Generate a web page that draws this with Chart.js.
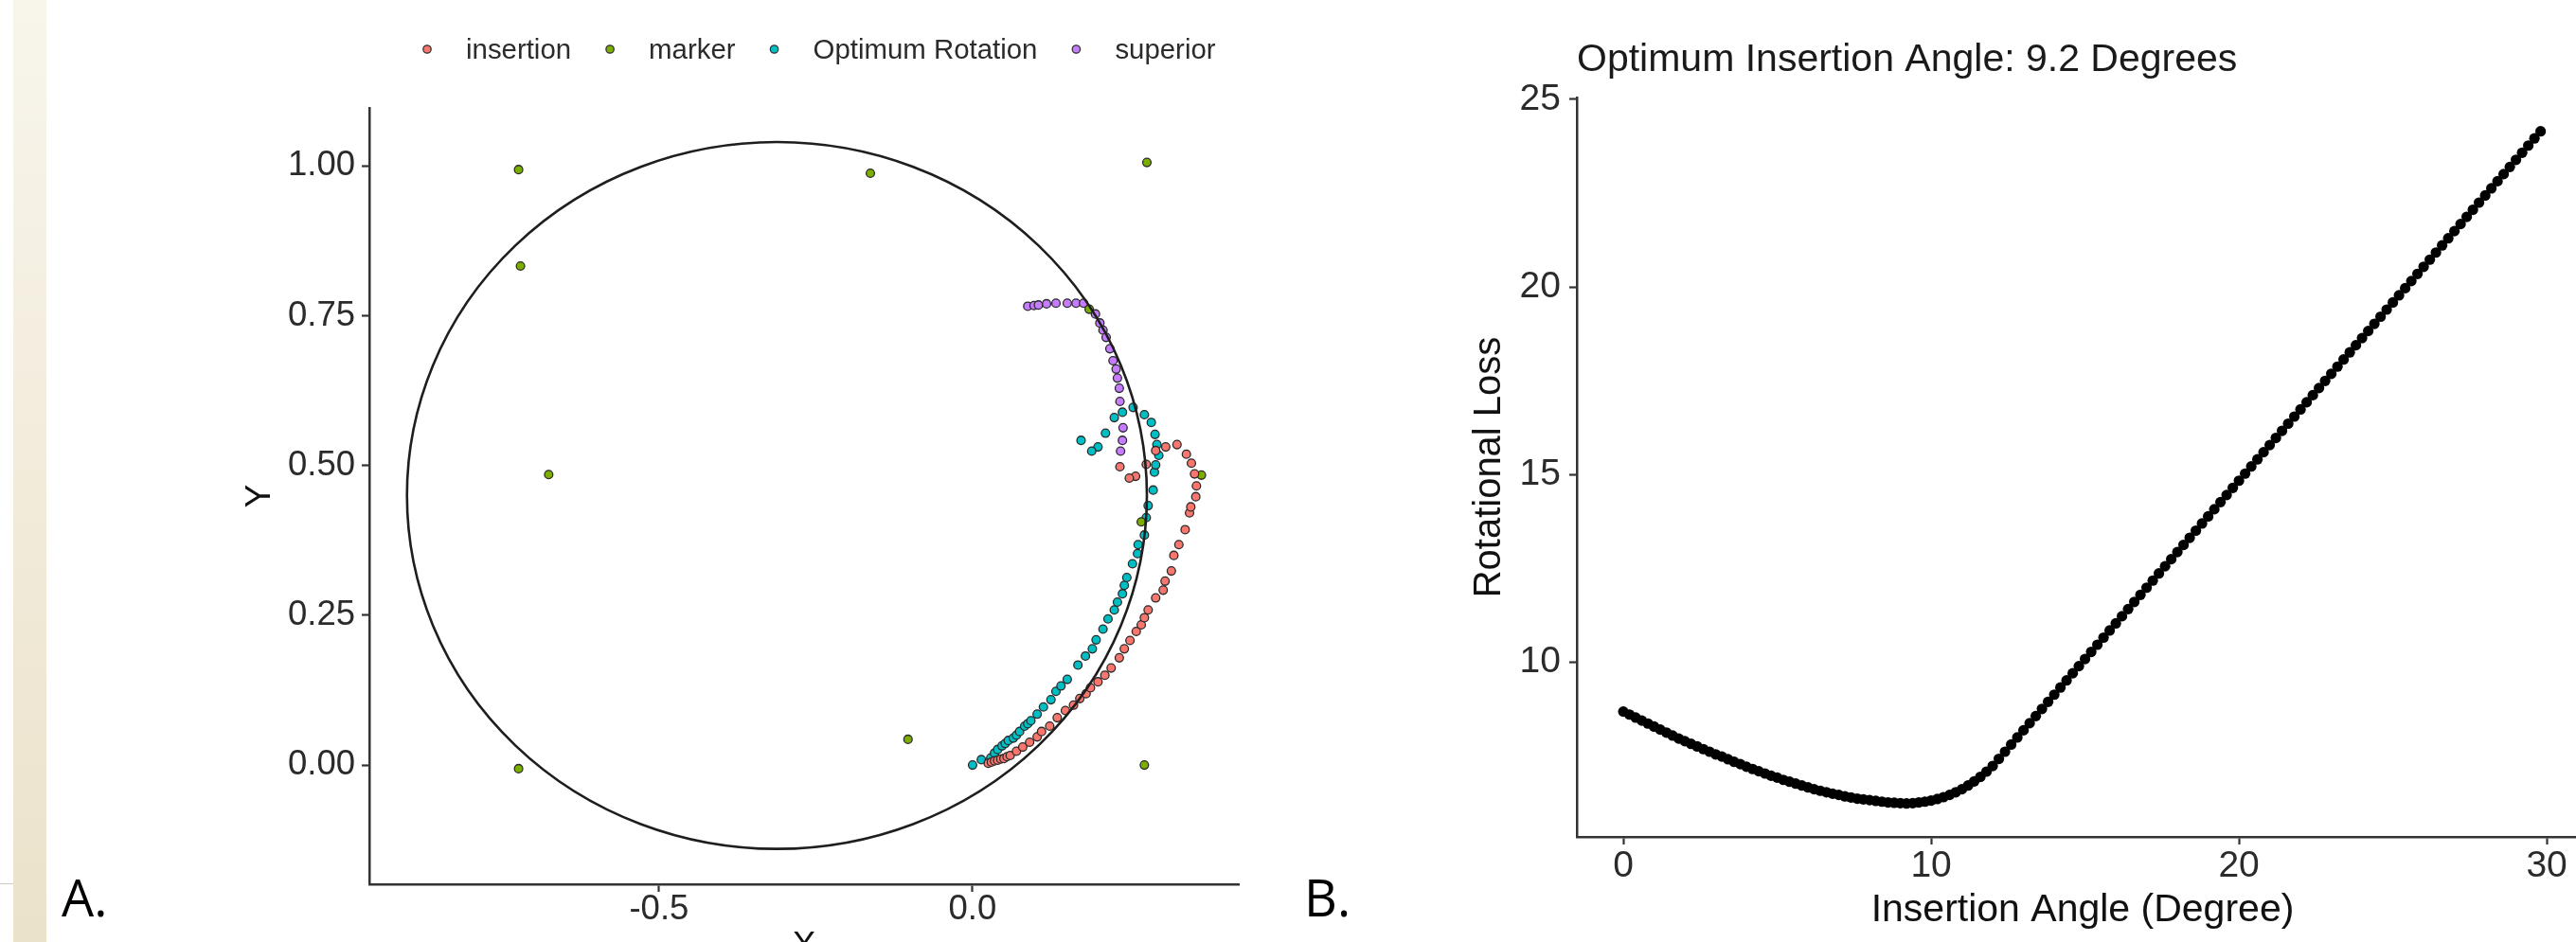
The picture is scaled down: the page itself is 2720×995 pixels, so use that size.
<html>

<head>
    <script src="https://cdn.jsdelivr.net/npm/chart.js@4.4.1/dist/chart.umd.min.js"></script>
    <style>
        html, body { margin: 0; padding: 0; width: 2720px; height: 995px; overflow: hidden; background: #fff; }
        #strip { position: absolute; left: 14px; top: 0; width: 35px; height: 995px; background: linear-gradient(to bottom, #f8f5ec, #ebe2ca); }
        #rule { position: absolute; left: 0; top: 933px; width: 14px; height: 1px; background: #d2cbbb; }
        .panel { position: absolute; font-family: "Open Sans"; font-size: 54px; line-height: 54px; color: #000; }
        #chartA { position: absolute; left: 0; top: 0; }
        #chartB { position: absolute; left: 1500px; top: 0; }
    </style>
</head>

<body>
    <div id="strip"></div>
    <div id="rule"></div>
    <canvas id="chartA" width="1560" height="1030"></canvas>
    <canvas id="chartB" width="1300" height="995"></canvas>
    <div class="panel" style="left:65px; top:920px">A.</div>
    <div class="panel" style="left:1377px; top:920px">B.</div>
</body>

<script>
    // ---- panel A: tracked points ----
    var insertionX = [0.025, 0.030, 0.035, 0.040, 0.045, 0.050, 0.055, 0.060, 0.070, 0.080, 0.091, 0.103, 0.110, 0.123, 0.135, 0.148, 0.161, 0.171,
        0.181, 0.188, 0.200, 0.211, 0.221, 0.234, 0.242, 0.251, 0.261, 0.269, 0.274, 0.280, 0.292, 0.304, 0.307, 0.317, 0.321,
        0.329, 0.339, 0.346, 0.348, 0.356, 0.357, 0.354, 0.349, 0.341, 0.326, 0.308, 0.292, 0.277, 0.260, 0.250, 0.235];
    var insertionY = [0.003, 0.005, 0.007, 0.008, 0.010, 0.011, 0.014, 0.016, 0.023, 0.030, 0.038, 0.047, 0.056, 0.065, 0.079, 0.091, 0.100, 0.111,
        0.119, 0.129, 0.139, 0.150, 0.162, 0.179, 0.194, 0.208, 0.223, 0.234, 0.246, 0.259, 0.279, 0.292, 0.307, 0.324, 0.350,
        0.368, 0.393, 0.421, 0.431, 0.448, 0.466, 0.486, 0.504, 0.519, 0.535, 0.531, 0.525, 0.502, 0.482, 0.479, 0.498];

    var markerX = [-0.724, -0.721, -0.676, -0.724, -0.163, -0.103, 0.278, 0.274, 0.186, 0.365, 0.269];
    var markerY = [0.994, 0.833, 0.485, -0.006, 0.988, 0.043, 1.006, 0.000, 0.761, 0.484, 0.406];

    var optimumX = [0.000, 0.014, 0.029, 0.035, 0.040, 0.047, 0.052, 0.057, 0.065, 0.070, 0.075, 0.083, 0.088, 0.093, 0.103, 0.113, 0.125,
        0.133, 0.141, 0.151, 0.168, 0.180, 0.191, 0.197, 0.208, 0.216, 0.226, 0.231, 0.239, 0.242, 0.246, 0.255, 0.263, 0.264,
        0.274, 0.277, 0.280, 0.288, 0.290, 0.292, 0.297, 0.294, 0.291, 0.285, 0.274, 0.256, 0.239, 0.226, 0.212, 0.200, 0.190, 0.173];
    var optimumY = [0.000, 0.009, 0.012, 0.020, 0.026, 0.032, 0.036, 0.041, 0.045, 0.050, 0.056, 0.065, 0.069, 0.074, 0.085, 0.097, 0.109,
        0.123, 0.132, 0.143, 0.167, 0.182, 0.194, 0.209, 0.227, 0.244, 0.259, 0.272, 0.286, 0.300, 0.313, 0.336, 0.353, 0.368,
        0.384, 0.413, 0.433, 0.459, 0.489, 0.501, 0.517, 0.535, 0.552, 0.572, 0.585, 0.597, 0.589, 0.580, 0.554, 0.531, 0.524, 0.542];

    var superiorX = [0.088, 0.098, 0.105, 0.118, 0.133, 0.151, 0.165, 0.177, 0.196, 0.203, 0.208, 0.213, 0.219, 0.224, 0.229, 0.231,
        0.234, 0.235, 0.240, 0.239, 0.236];
    var superiorY = [0.766, 0.767, 0.768, 0.770, 0.771, 0.771, 0.771, 0.771, 0.753, 0.738, 0.726, 0.714, 0.695, 0.675, 0.661, 0.646,
        0.629, 0.607, 0.563, 0.542, 0.524];

    var circleCenter = [-0.312, 0.45];
    var circleRadius = 0.59;

    var xTicksA = [-0.5, 0.0];
    var yTicksA = [0.00, 0.25, 0.50, 0.75, 1.00];

    // ---- panel B: rotational loss per insertion angle ----
    var angles = [0.0, 0.2, 0.4, 0.6, 0.8, 1.0, 1.2, 1.4, 1.6, 1.8,
        2.0, 2.2, 2.4, 2.6, 2.8, 3.0, 3.2, 3.4, 3.6, 3.8,
        4.0, 4.2, 4.4, 4.6, 4.8, 5.0, 5.2, 5.4, 5.6, 5.8,
        6.0, 6.2, 6.4, 6.6, 6.8, 7.0, 7.2, 7.4, 7.6, 7.8,
        8.0, 8.2, 8.4, 8.6, 8.8, 9.0, 9.2, 9.4, 9.6, 9.8,
        10.0, 10.2, 10.4, 10.6, 10.8, 11.0, 11.2, 11.4, 11.6, 11.8,
        12.0, 12.2, 12.4, 12.6, 12.8, 13.0, 13.2, 13.4, 13.6, 13.8,
        14.0, 14.2, 14.4, 14.6, 14.8, 15.0, 15.2, 15.4, 15.6, 15.8,
        16.0, 16.2, 16.4, 16.6, 16.8, 17.0, 17.2, 17.4, 17.6, 17.8,
        18.0, 18.2, 18.4, 18.6, 18.8, 19.0, 19.2, 19.4, 19.6, 19.8,
        20.0, 20.2, 20.4, 20.6, 20.8, 21.0, 21.2, 21.4, 21.6, 21.8,
        22.0, 22.2, 22.4, 22.6, 22.8, 23.0, 23.2, 23.4, 23.6, 23.8,
        24.0, 24.2, 24.4, 24.6, 24.8, 25.0, 25.2, 25.4, 25.6, 25.8,
        26.0, 26.2, 26.4, 26.6, 26.8, 27.0, 27.2, 27.4, 27.6, 27.8,
        28.0, 28.2, 28.4, 28.6, 28.8, 29.0, 29.2, 29.4, 29.6, 29.8];
    var rotationalLoss = [8.69, 8.61, 8.53, 8.45, 8.37, 8.29, 8.21, 8.13, 8.05, 7.97,
        7.90, 7.83, 7.76, 7.69, 7.62, 7.55, 7.49, 7.42, 7.35, 7.29,
        7.22, 7.16, 7.10, 7.04, 6.98, 6.93, 6.87, 6.82, 6.77, 6.72,
        6.67, 6.62, 6.58, 6.54, 6.50, 6.47, 6.43, 6.40, 6.37, 6.35,
        6.33, 6.31, 6.29, 6.27, 6.26, 6.25, 6.24, 6.25, 6.27, 6.29,
        6.32, 6.36, 6.41, 6.47, 6.54, 6.62, 6.72, 6.83, 6.95, 7.09,
        7.24, 7.43, 7.62, 7.81, 8.00, 8.19, 8.38, 8.57, 8.76, 8.95,
        9.14, 9.33, 9.52, 9.71, 9.90, 10.09, 10.28, 10.47, 10.66, 10.85,
        11.04, 11.23, 11.42, 11.61, 11.80, 11.99, 12.18, 12.37, 12.56, 12.75,
        12.94, 13.13, 13.32, 13.51, 13.70, 13.89, 14.08, 14.27, 14.46, 14.65,
        14.84, 15.03, 15.22, 15.41, 15.60, 15.79, 15.98, 16.17, 16.36, 16.55,
        16.74, 16.93, 17.12, 17.31, 17.50, 17.69, 17.88, 18.07, 18.26, 18.45,
        18.64, 18.83, 19.02, 19.21, 19.40, 19.59, 19.78, 19.97, 20.16, 20.35,
        20.54, 20.73, 20.92, 21.11, 21.30, 21.49, 21.68, 21.87, 22.06, 22.25,
        22.44, 22.63, 22.82, 23.01, 23.20, 23.39, 23.58, 23.77, 23.96, 24.15];

    var xTicksB = [0, 10, 20, 30];
    var yTicksB = [10, 15, 20, 25];

    Chart.defaults.font.family = '"Liberation Sans", Arial, sans-serif';

    function pairs(xs, ys) {
        return xs.map(function(x, i) { return {x: x, y: ys[i]}; });
    }

    function axisStyle() {
        return {
            grid: { display: true, drawOnChartArea: false, drawTicks: true, tickLength: 8, tickWidth: 2.2, tickColor: '#333' },
            border: { display: true, color: '#333', width: 2.5 }
        };
    }

    // circle drawn from its centre and radius in data units
    var circlePlugin = {
        id: 'circleOverlay',
        afterDatasetsDraw: function(chart) {
            var ctx = chart.ctx, x = chart.scales.x, y = chart.scales.y;
            var cx = x.getPixelForValue(circleCenter[0]);
            var cy = y.getPixelForValue(circleCenter[1]);
            var rx = Math.abs(x.getPixelForValue(circleCenter[0] + circleRadius) - cx);
            var ry = Math.abs(y.getPixelForValue(circleCenter[1] + circleRadius) - cy);
            ctx.save();
            ctx.beginPath();
            ctx.ellipse(cx, cy, rx, ry, 0, 0, Math.PI * 2);
            ctx.lineWidth = 2.6;
            ctx.strokeStyle = '#1e1e1e';
            ctx.stroke();
            ctx.restore();
        }
    };

    // ggplot style legend row above the panel
    var dotLegend = {
        id: 'dotLegend',
        afterDraw: function(chart) {
            var ctx = chart.ctx;
            var x = chart.chartArea.left + 61;
            ctx.save();
            ctx.font = '29.4px "Liberation Sans"';
            ctx.textBaseline = 'alphabetic';
            chart.data.datasets.forEach(function(ds) {
                ctx.beginPath();
                ctx.arc(x, 52, 4.2, 0, Math.PI * 2);
                ctx.fillStyle = ds.backgroundColor;
                ctx.fill();
                ctx.lineWidth = 1.3;
                ctx.strokeStyle = '#333';
                ctx.stroke();
                ctx.fillStyle = '#2b2b2b';
                ctx.fillText(ds.label, x + 41, 62);
                x += 41 + ctx.measureText(ds.label).width + 41;
            });
            ctx.restore();
        }
    };

    function series(label, xs, ys, color) {
        return {
            label: label,
            data: pairs(xs, ys),
            backgroundColor: color,
            borderColor: '#2a2a2a',
            borderWidth: 1.3,
            pointRadius: 4.4
        };
    }

    var axAx = axisStyle();
    var ayA = axisStyle();

    new Chart(document.getElementById('chartA'), {
        type: 'scatter',
        data: {
            datasets: [
                series('insertion', insertionX, insertionY, '#F8766D'),
                series('marker', markerX, markerY, '#7CAE00'),
                series('Optimum Rotation', optimumX, optimumY, '#00BFC4'),
                series('superior', superiorX, superiorY, '#C77CFF')
            ]
        },
        options: {
            responsive: false,
            animation: false,
            layout: { padding: { top: 114, left: 256, right: 252, bottom: 0 } },
            plugins: { legend: { display: false }, tooltip: { enabled: false } },
            scales: {
                x: {
                    type: 'linear', min: -0.962, max: 0.4245,
                    afterFit: function(s) { s.height = 96; },
                    afterBuildTicks: function(s) { s.ticks = xTicksA.map(function(v) { return {value: v}; }); },
                    ticks: { callback: function(v) { return v.toFixed(1); }, font: { size: 36.5, lineHeight: 1 }, color: '#2b2b2b', padding: 1, maxRotation: 0 },
                    grid: axAx.grid, border: axAx.border,
                    title: { display: true, text: 'X', font: { size: 37, lineHeight: 1 }, color: '#111', padding: { top: 0, bottom: 11.5 } }
                },
                y: {
                    type: 'linear', min: -0.199, max: 1.097,
                    afterFit: function(s) { s.width = 134; },
                    afterBuildTicks: function(s) { s.ticks = yTicksA.map(function(v) { return {value: v}; }); },
                    ticks: { callback: function(v) { return v.toFixed(2); }, font: { size: 36.5, lineHeight: 1 }, color: '#2b2b2b', padding: 7 },
                    grid: ayA.grid, border: ayA.border,
                    title: { display: true, text: 'Y', font: { size: 37, lineHeight: 1 }, color: '#111', padding: { top: 0.5, bottom: 0 } }
                }
            }
        },
        plugins: [circlePlugin, dotLegend]
    });

    var axB = axisStyle();
    var ayB = axisStyle();

    new Chart(document.getElementById('chartB'), {
        type: 'scatter',
        data: {
            datasets: [{
                label: 'Rotational Loss',
                data: pairs(angles, rotationalLoss),
                backgroundColor: '#000',
                borderWidth: 0,
                pointRadius: 5.6
            }]
        },
        options: {
            responsive: false,
            animation: false,
            layout: { padding: { top: 43.5, left: 50, right: 67, bottom: 0 } },
            plugins: {
                legend: { display: false },
                tooltip: { enabled: false },
                title: {
                    display: true, text: 'Optimum Insertion Angle: 9.2 Degrees', align: 'start', fullSize: false,
                    font: { size: 41, lineHeight: 1, weight: 'normal' }, color: '#1a1a1a', padding: { top: 0, bottom: 18.5 }
                }
            },
            scales: {
                x: {
                    type: 'linear', min: -1.51, max: 31.35,
                    afterFit: function(s) { s.height = 111; },
                    afterBuildTicks: function(s) { s.ticks = xTicksB.map(function(v) { return {value: v}; }); },
                    ticks: { font: { size: 39, lineHeight: 1 }, color: '#2b2b2b', padding: 3.5, maxRotation: 0 },
                    grid: axB.grid, border: axB.border,
                    title: { display: true, text: 'Insertion Angle (Degree)', font: { size: 41, lineHeight: 1 }, color: '#111', padding: { top: 0, bottom: 12.5 } }
                },
                y: {
                    type: 'linear', min: 5.35, max: 25.05,
                    afterFit: function(s) { s.width = 115; },
                    afterBuildTicks: function(s) { s.ticks = yTicksB.map(function(v) { return {value: v}; }); },
                    ticks: { font: { size: 39, lineHeight: 1 }, color: '#2b2b2b', padding: 9 },
                    grid: ayB.grid, border: ayB.border,
                    title: { display: true, text: 'Rotational Loss', font: { size: 40, lineHeight: 1 }, color: '#111', padding: { top: 3, bottom: 0 } }
                }
            }
        }
    });
</script>

</html>
